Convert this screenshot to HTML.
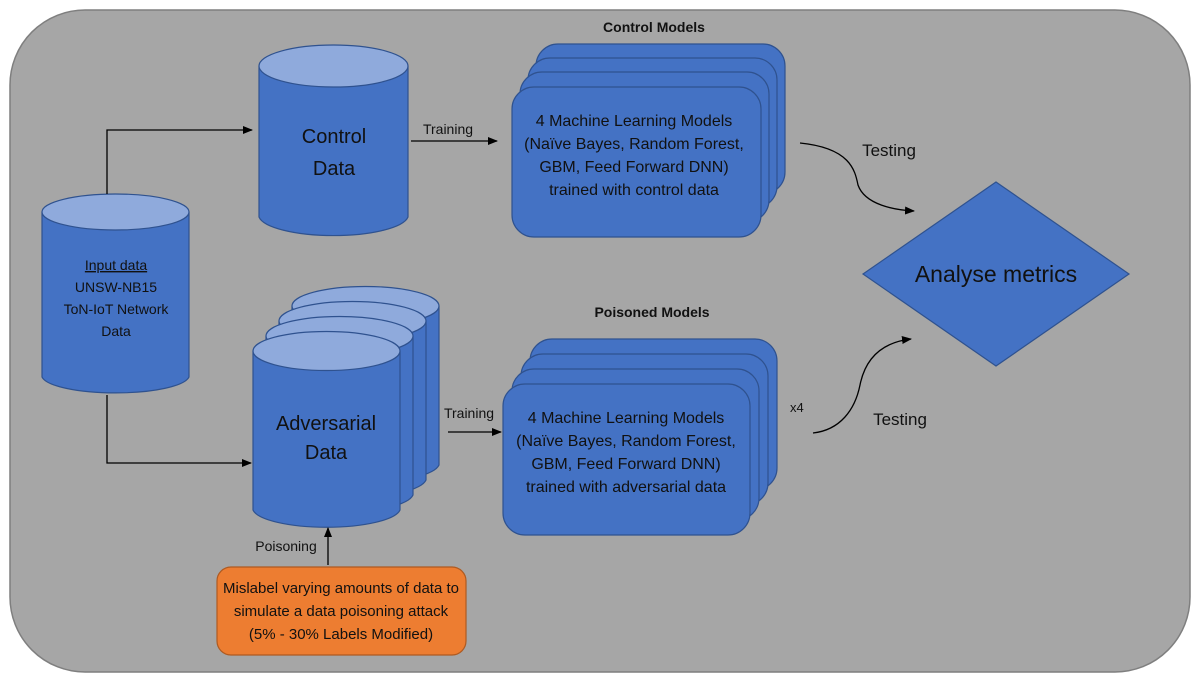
<!DOCTYPE html>
<html><head><meta charset="utf-8"><style>
html,body{margin:0;padding:0;background:#fff}
svg{display:block}
text{font-family:"Liberation Sans",sans-serif;fill:#111}
</style></head><body>
<svg width="1200" height="683" viewBox="0 0 1200 683" xmlns="http://www.w3.org/2000/svg">
<defs>
<marker id="ar" markerWidth="10" markerHeight="8" refX="9" refY="4" orient="auto" markerUnits="userSpaceOnUse">
<path d="M0,0 L10,4 L0,8 Z" fill="#000"/></marker>
</defs>
<rect x="10" y="10" width="1180" height="662" rx="75" fill="#a6a6a6" stroke="#7f7f7f" stroke-width="1.5"/>

<g stroke="#2f528f" stroke-width="1.2">
<path d="M259,66 A75,21 0 0 1 408,66 V217 A75,21 0 0 1 259,217 Z" fill="#4472c4"/>
<ellipse cx="333.5" cy="66" rx="74.5" ry="21" fill="#8faadc"/>
<path d="M42,212 A74,18 0 0 1 189,212 V377 A74,18 0 0 1 42,377 Z" fill="#4472c4"/>
<ellipse cx="115.5" cy="212" rx="73.5" ry="18" fill="#8faadc"/>
<path d="M292,306 A74,19.5 0 0 1 439,306 V465 A74,19.5 0 0 1 292,465 Z" fill="#4472c4"/>
<ellipse cx="365.5" cy="306" rx="73.5" ry="19.5" fill="#8faadc"/>
<path d="M279,321 A74,19.5 0 0 1 426,321 V480 A74,19.5 0 0 1 279,480 Z" fill="#4472c4"/>
<ellipse cx="352.5" cy="321" rx="73.5" ry="19.5" fill="#8faadc"/>
<path d="M266,336 A74,19.5 0 0 1 413,336 V495 A74,19.5 0 0 1 266,495 Z" fill="#4472c4"/>
<ellipse cx="339.5" cy="336" rx="73.5" ry="19.5" fill="#8faadc"/>
<path d="M253,351 A74,19.5 0 0 1 400,351 V510 A74,19.5 0 0 1 253,510 Z" fill="#4472c4"/>
<ellipse cx="326.5" cy="351" rx="73.5" ry="19.5" fill="#8faadc"/>
<rect x="536" y="44" width="249" height="150" rx="22" fill="#4472c4"/>
<rect x="528" y="58" width="249" height="150" rx="22" fill="#4472c4"/>
<rect x="520" y="72" width="249" height="150" rx="22" fill="#4472c4"/>
<rect x="512" y="87" width="249" height="150" rx="22" fill="#4472c4"/>
<rect x="530" y="339" width="247" height="151" rx="22" fill="#4472c4"/>
<rect x="521" y="354" width="247" height="151" rx="22" fill="#4472c4"/>
<rect x="512" y="369" width="247" height="151" rx="22" fill="#4472c4"/>
<rect x="503" y="384" width="247" height="151" rx="22" fill="#4472c4"/>
<polygon points="996,182 1129,274 996,366 863,274" fill="#4472c4"/>
</g>
<rect x="217" y="567" width="249" height="88" rx="14" fill="#ed7d31" stroke="#ae5a21" stroke-width="1.2"/>

<g stroke="#000" stroke-width="1.3" fill="none">
<path d="M107,194 V130 H252" marker-end="url(#ar)"/>
<path d="M107,395 V463 H251" marker-end="url(#ar)"/>
<path d="M411,141 H497" marker-end="url(#ar)"/>
<path d="M448,432 H501" marker-end="url(#ar)"/>
<path d="M328,565 V528" marker-end="url(#ar)"/>
<path d="M800,143 C850,148 855,170 858,185 C865,205 895,210 914,211" marker-end="url(#ar)"/>
<path d="M813,433 C840,430 855,410 860,385 C866,355 885,342 911,339" marker-end="url(#ar)"/>
</g>

<text x="654" y="32" font-size="14" font-weight="bold" text-anchor="middle">Control Models</text>
<text x="652" y="317" font-size="14" font-weight="bold" text-anchor="middle">Poisoned Models</text>
<text x="334" y="143" font-size="20" text-anchor="middle">Control</text>
<text x="334" y="175" font-size="20" text-anchor="middle">Data</text>
<text x="326" y="430" font-size="20" text-anchor="middle">Adversarial</text>
<text x="326" y="459" font-size="20" text-anchor="middle">Data</text>
<g font-size="14" text-anchor="middle">
<text x="116" y="270" text-decoration="underline">Input data</text>
<text x="116" y="292">UNSW-NB15</text>
<text x="116" y="314">ToN-IoT Network</text>
<text x="116" y="336">Data</text>
</g>
<g font-size="16" text-anchor="middle">
<text x="634" y="126">4 Machine Learning Models</text>
<text x="634" y="149">(Naïve Bayes, Random Forest,</text>
<text x="634" y="172">GBM, Feed Forward DNN)</text>
<text x="634" y="195">trained with control data</text>
<text x="626" y="423">4 Machine Learning Models</text>
<text x="626" y="446">(Naïve Bayes, Random Forest,</text>
<text x="626" y="469">GBM, Feed Forward DNN)</text>
<text x="626" y="492">trained with adversarial data</text>
</g>
<g font-size="15" text-anchor="middle">
<text x="341" y="593">Mislabel varying amounts of data to</text>
<text x="341" y="616">simulate a data poisoning attack</text>
<text x="341" y="639">(5% - 30% Labels Modified)</text>
</g>
<text x="448" y="134" font-size="14" text-anchor="middle">Training</text>
<text x="469" y="418" font-size="14" text-anchor="middle">Training</text>
<text x="286" y="551" font-size="14" text-anchor="middle">Poisoning</text>
<text x="790" y="412" font-size="13">x4</text>
<text x="889" y="156" font-size="17" text-anchor="middle">Testing</text>
<text x="900" y="425" font-size="17" text-anchor="middle">Testing</text>
<text x="996" y="282" font-size="23" text-anchor="middle">Analyse metrics</text>
</svg>
</body></html>
